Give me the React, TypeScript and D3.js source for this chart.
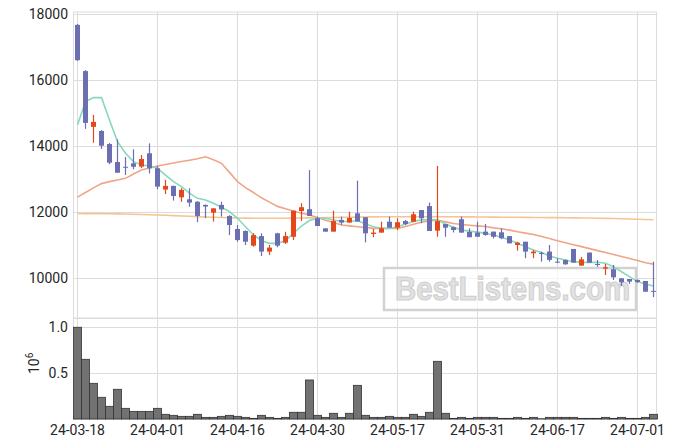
import React from "react";
import * as d3 from "d3";

const dates = [
  "2024-03-18","2024-03-19","2024-03-20","2024-03-21","2024-03-22","2024-03-25","2024-03-26","2024-03-27","2024-03-28","2024-03-29",
  "2024-04-01","2024-04-02","2024-04-03","2024-04-04","2024-04-05","2024-04-08","2024-04-09","2024-04-11","2024-04-12","2024-04-15",
  "2024-04-16","2024-04-17","2024-04-18","2024-04-19","2024-04-22","2024-04-23","2024-04-24","2024-04-25","2024-04-26","2024-04-29",
  "2024-04-30","2024-05-02","2024-05-03","2024-05-07","2024-05-08","2024-05-09","2024-05-10","2024-05-13","2024-05-14","2024-05-16",
  "2024-05-17","2024-05-20","2024-05-21","2024-05-22","2024-05-23","2024-05-24","2024-05-27","2024-05-28","2024-05-29","2024-05-30",
  "2024-05-31","2024-06-03","2024-06-04","2024-06-05","2024-06-07","2024-06-10","2024-06-11","2024-06-12","2024-06-13","2024-06-14",
  "2024-06-17","2024-06-18","2024-06-19","2024-06-20","2024-06-21","2024-06-24","2024-06-25","2024-06-26","2024-06-27","2024-06-28",
  "2024-07-01","2024-07-02","2024-07-03",
];

const opens = [
  17670,16270,14580,14455,14060,13515,13370,13475,13375,13780,
  13325,12680,12790,12445,12385,12310,12215,11980,12215,11880,
  11485,11425,10980,11270,10800,11355,11070,11250,12030,12085,
  11810,11505,11405,11760,11680,11960,11840,11335,11375,11705,
  11525,11725,11705,12060,12180,11435,11635,11540,11780,11395,
  11375,11405,11405,11385,11270,11000,11100,10750,10760,10800,
  10495,10545,10880,10375,10770,10425,10285,10265,9990,9970,
  9940,9910,9610,
];
const highs = [
  17700,16300,14940,14480,14090,14200,13665,13900,13725,14080,
  13390,12970,12800,12720,12720,12330,12230,12120,12310,11900,
  11605,11440,11355,11355,11000,11370,11400,12040,12265,13270,
  11860,11505,12040,11860,12010,12950,11840,11485,11710,11860,
  11810,11760,12010,12060,12285,13395,11635,11560,11860,11505,
  11705,11635,11405,11505,11270,11100,11100,10850,10800,11000,
  10600,10560,10880,10640,10770,10545,10425,10395,9990,9970,
  9960,9910,10495,
];
const lows = [
  16580,14520,14100,13910,13450,13190,13120,13295,13335,13170,
  12690,12545,12345,12310,12160,11690,11810,11710,11860,11300,
  11100,11000,10950,10665,10700,10930,11030,11150,11730,11880,
  11575,11405,11405,11605,11680,11710,11080,11235,11375,11525,
  11455,11600,11705,11660,11425,11250,11250,11380,11375,11235,
  11250,11280,11200,11180,11050,10830,10600,10600,10495,10495,
  10450,10400,10465,10375,10465,10340,10090,9940,9760,9820,
  9850,9585,9420,
];
const closes = [
  16600,14700,14730,14010,13495,13190,13340,13370,13605,13325,
  12770,12790,12485,12670,12285,11880,12165,12110,12080,11605,
  11150,11100,11300,10800,10920,10980,11270,12040,12145,11880,
  11575,11405,11725,11680,11820,11710,11355,11375,11505,11525,
  11690,11635,11930,11810,11425,11725,11525,11455,11375,11235,
  11250,11305,11250,11205,11050,11070,10800,10800,10750,10550,
  10465,10415,10465,10565,10465,10395,10325,10020,9870,9890,
  9880,9585,9595,
];
const volumes = [
  997000,649000,388000,236000,138000,323000,116000,83000,83000,83000,
  116000,51000,40000,29000,29000,51000,18000,18000,29000,40000,
  29000,18000,7000,40000,18000,7000,18000,73000,73000,424000,
  40000,18000,62000,18000,62000,366000,40000,18000,18000,29000,
  18000,18000,51000,29000,73000,627000,62000,7000,18000,7000,
  18000,18000,18000,7000,7000,18000,7000,18000,3000,18000,
  18000,18000,18000,7000,7000,7000,18000,7000,18000,7000,
  7000,18000,51000,
];
const ma5 = [
  14640,15345,15465,15465,14790,14130,13780,13525,13425,13395,
  13325,13120,12920,12770,12570,12415,12365,12265,12145,12010,
  11810,11555,11305,11130,11050,11050,11130,11355,11575,11740,
  11810,11810,11760,11710,11710,11740,11635,11555,11505,11505,
  11555,11635,11710,11760,11760,11760,11635,11535,11455,11420,
  11390,11355,11305,11235,11150,11050,10950,10850,10770,10665,
  10600,10545,10495,10475,10475,10475,10445,10345,10190,10040,
  9890,9820,9760,
];
const ma20 = [
  12450,12590,12730,12860,12920,12970,13020,13150,13270,13335,
  13395,13440,13485,13530,13570,13615,13675,13580,13475,13200,
  12920,12740,12590,12430,12300,12170,12100,12030,11960,11910,
  11830,11750,11680,11605,11580,11555,11530,11505,11505,11505,
  11505,11560,11630,11690,11730,11750,11700,11650,11620,11600,
  11580,11560,11520,11490,11450,11400,11360,11320,11260,11200,
  11130,11070,11010,10950,10890,10830,10770,10710,10650,10590,
  10530,10460,10420,
];
const ma120 = [
  11955,11952,11950,11948,11945,11942,11938,11932,11925,11918,
  11910,11900,11890,11880,11870,11860,11850,11840,11832,11825,
  11820,11815,11812,11810,11810,11810,11812,11815,11818,11822,
  11826,11830,11834,11838,11842,11846,11850,11852,11854,11855,
  11856,11857,11858,11858,11858,11857,11856,11855,11853,11851,
  11849,11847,11845,11843,11841,11839,11837,11835,11833,11831,
  11829,11826,11823,11820,11816,11812,11808,11803,11797,11790,
  11782,11773,11763,
];

const priceTicks = [10000, 12000, 14000, 16000, 18000];
const volTicks = [0.5, 1.0];
const xTickIdx = [0, 10, 20, 30, 40, 50, 60, 70];

const UP = "#e5461c";
const DOWN = "#6b6fb2";
const GRID = "#dcdcdc";
const TXT = "#262626";
const FONT = "Roboto, 'DejaVu Sans', sans-serif";

export default function App() {
  const W = 675, H = 448;
  const left = 73.5, right = 656.5, top = 12, mid = 318, bottom = 419;
  const x = d3.scaleLinear().domain([0, dates.length - 1]).range([77, 77 + 8 * (dates.length - 1)]);
  const y = d3.scaleLinear().domain([10000, 18000]).range([278, 14]);
  const yv = d3.scaleLinear().domain([0, 1e6]).range([419, 327]);
  const fmt = (d: string) => d.slice(2);

  const lineGen = (arr: number[]) =>
    d3.line<number>().x((_, i) => x(i) + 0.5).y((v) => y(v)).curve(d3.curveLinear)(arr) || "";

  return (
    <svg width={W} height={H} style={{ position: "absolute", left: 0, top: 0, background: "#fff" }} fontFamily={FONT}>
      <rect x={0} y={0} width={W} height={H} fill="#fff" />
      {/* grid main */}
      {priceTicks.map((t) => (
        <line key={"pg" + t} x1={left} x2={right} y1={Math.round(y(t)) + 0.5} y2={Math.round(y(t)) + 0.5} stroke={GRID} strokeWidth={1} />
      ))}
      {volTicks.map((t) => (
        <line key={"vg" + t} x1={left} x2={right} y1={Math.round(yv(t * 1e6)) + 0.5} y2={Math.round(yv(t * 1e6)) + 0.5} stroke={GRID} strokeWidth={1} />
      ))}
      {xTickIdx.map((i) => (
        <line key={"xg" + i} x1={x(i) + 0.5} x2={x(i) + 0.5} y1={top} y2={bottom} stroke={GRID} strokeWidth={1} />
      ))}
      {/* frames */}
      <rect x={left} y={top} width={right - left} height={mid - top} fill="none" stroke={GRID} strokeWidth={1} />
      <rect x={left} y={mid + 0.5} width={right - left} height={bottom - mid} fill="none" stroke={GRID} strokeWidth={1} />

      {/* watermark */}
      <rect x={384} y={268} width={252} height={42} fill="#fff" fillOpacity={0.7} stroke="#d2d2d2" strokeWidth={2.5} />
      <text x={395} y={300} fontSize={33} fontWeight="bold" fontFamily="'Liberation Sans', Arial, sans-serif"
        fill="#e2e2e2" stroke="#d0d0d0" strokeWidth={1.2} textLength={235} lengthAdjust="spacingAndGlyphs">
        BestListens.com
      </text>

      {/* moving averages */}
      <path d={lineGen(ma120)} fill="none" stroke="#f3c593" strokeWidth={1.6} />
      <path d={lineGen(ma20)} fill="none" stroke="#efa586" strokeWidth={1.6} />
      <path d={lineGen(ma5)} fill="none" stroke="#87d8bd" strokeWidth={1.6} />

      {/* candles */}
      {dates.map((d, i) => {
        const o = opens[i], c = closes[i], h = highs[i], l = lows[i];
        const col = c >= o ? UP : DOWN;
        const yTop = y(Math.max(o, c));
        const yBot = y(Math.min(o, c));
        const bh = Math.max(1, yBot - yTop);
        const cx = x(i);
        return (
          <g key={d}>
            <line x1={cx + 0.5} x2={cx + 0.5} y1={y(h)} y2={y(l)} stroke={col} strokeWidth={1.2} />
            <rect x={cx - 2} y={yTop} width={5} height={bh} fill={col} />
          </g>
        );
      })}

      {/* volume */}
      {dates.map((d, i) => {
        const cx = x(i);
        const yt = yv(volumes[i]);
        return (
          <rect key={"v" + d} x={cx - 3.5} y={yt} width={8} height={Math.max(0, 419 - yt)} fill="#727272" stroke="#333" strokeWidth={0.8} />
        );
      })}

      {/* axis labels */}
      {priceTicks.map((t) => (
        <text key={"pl" + t} x={68} y={y(t)} dy="0.35em" textAnchor="end" fontSize={14} fill={TXT}>
          {t}
        </text>
      ))}
      {volTicks.map((t) => (
        <text key={"vl" + t} x={68} y={yv(t * 1e6)} dy="0.35em" textAnchor="end" fontSize={14} fill={TXT}>
          {t.toFixed(1)}
        </text>
      ))}
      <text transform="translate(38.5,374) rotate(-90)" fontSize={14} fill={TXT}>
        10<tspan fontSize={10} dy={-6}>6</tspan>
      </text>
      {xTickIdx.map((i) => (
        <text key={"xl" + i} x={x(i) + 0.5} y={435} textAnchor="middle" fontSize={14} fill={TXT}>
          {fmt(dates[i])}
        </text>
      ))}
    </svg>
  );
}
